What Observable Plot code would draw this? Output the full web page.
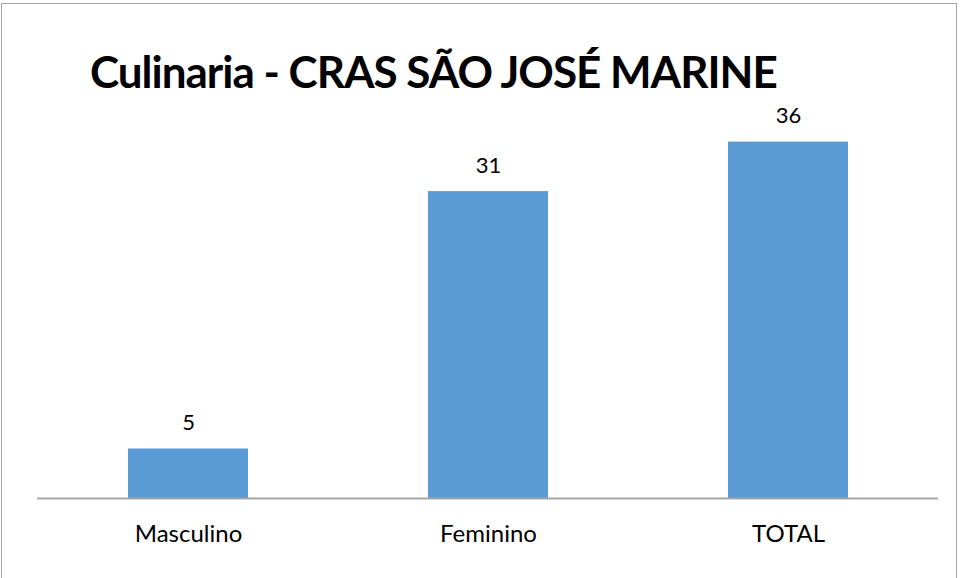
<!DOCTYPE html>
<html>
<head>
<meta charset="utf-8">
<script src="https://cdn.jsdelivr.net/npm/d3@7"></script>
<script src="https://cdn.jsdelivr.net/npm/@observablehq/plot@0.6"></script>
<style>
  html, body { margin: 0; padding: 0; background: #fff; }
  #wrap { position: relative; width: 960px; height: 578px; overflow: hidden; font-family: Lato, "Open Sans", sans-serif; }
  #frame { position: absolute; left: 1px; top: 3px; width: 956px; height: 580px; border: 1.5px solid #a6a6a6; box-sizing: border-box; pointer-events: none; }
  #title { position: absolute; left: 90px; top: 45px; font-size: 44px; font-weight: 700; color: #000; white-space: nowrap; letter-spacing: -1px; }
  #chart { position: absolute; left: 0; top: 0; }
</style>
</head>
<body>
<div id="wrap">
  <div id="chart"></div>
  <div id="title">Culinaria - CRAS SÃO JOSÉ MARINE</div>
  <div id="frame"></div>
</div>
<script>
const categories = ["Masculino", "Feminino", "TOTAL"];
const values = [5, 31, 36];
const data = categories.map((c, i) => ({category: c, value: values[i]}));

const chart = Plot.plot({
  width: 960,
  height: 578,
  marginLeft: 37,
  marginRight: 22,
  marginTop: 102,
  marginBottom: 80,
  style: {fontFamily: "Lato, 'Open Sans', sans-serif", fontSize: "22px", background: "white", color: "#000"},
  x: {domain: categories, paddingInner: 0.6, paddingOuter: 0.3, label: null, axis: null},
  y: {domain: [0, 40], axis: null},
  marks: [
    Plot.barY(data, {x: "category", y: "value", fill: "#5b9bd5"}),
    Plot.ruleY([0], {stroke: "#a6a6a6", strokeWidth: 2}),
    Plot.text(data, {x: "category", y: "value", text: d => String(d.value), dy: -26, fontSize: 22, fill: "#000"}),
    Plot.axisX({tickSize: 0, tickPadding: 26, fontSize: 24, label: null, fill: "#000"})
  ]
});
document.getElementById("chart").appendChild(chart);
</script>
</body>
</html>
